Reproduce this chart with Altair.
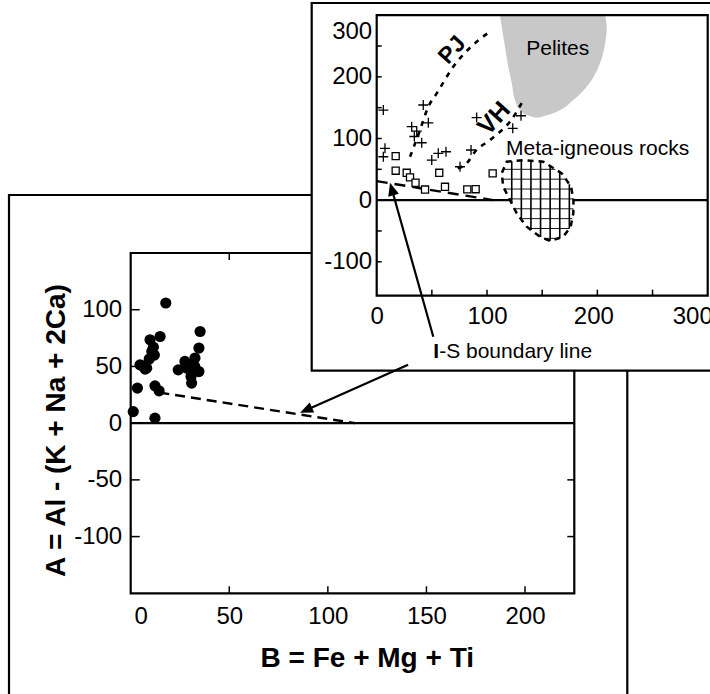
import altair as alt
import pandas as pd
import numpy as np

FONT = "Liberation Sans"

# ---------------- data ----------------
# Main panel: filled circles  (B = Fe + Mg + Ti , A = Al - (K + Na + 2Ca))
main_b = [17.8, 14.9, 9.8, 11.5, 10.7, 9.4, 4.7, 8.1, 7.3, 6.0, 12.0, 3.4, 12.3, 14.4, 1.3, 12.3,
          35.2, 34.6, 32.6, 27.5, 24.1, 28.4, 30.9, 34.6, 30.6, 30.9, 29.5, 32.5]
main_a = [105.9, 76.4, 73.5, 67.0, 63.2, 56.5, 51.4, 48.5, 47.6, 50.5, 60.0, 30.9, 32.9, 28.5, 10.2, 4.4,
          80.8, 66.2, 57.4, 54.4, 47.0, 48.5, 44.1, 45.5, 41.1, 35.3, 51.0, 50.0]
# I-S boundary line in the main panel
is_main_b = [14.5, 113.8]
is_main_a = [27.0, 0.0]

# Inset: plus markers
plus_b = [6.0, 42.2, 46.8, 31.7, 36.3, 34.1, 40.8, 7.5, 6.0, 55.8, 62.8, 49.9, 75.5, 85.5, 90.6, 123.3, 130.8]
plus_a = [146.1, 154.3, 125.5, 119.1, 112.1, 103.2, 93.1, 84.0, 70.4, 75.9, 78.5, 65.0, 54.2, 81.3, 134.0, 116.5, 136.9]
# Inset: open squares
sq_b = [17.2, 17.2, 27.2, 30.2, 35.2, 43.8, 56.7, 61.9, 82.1, 89.7, 105.1]
sq_a = [71.5, 47.7, 44.4, 37.0, 28.2, 17.2, 44.4, 21.7, 17.5, 17.7, 43.5]
# Inset: PJ and VH trend lines
pj_b = [30.2, 38.3, 46.8, 54.4, 69.4, 90.6, 102.7]
pj_a = [70.4, 108.8, 151.5, 173.2, 216.4, 256.9, 273.2]
vh_b = [73.4, 81.6, 89.1, 102.7, 111.8, 120.8, 132.9]
vh_a = [51.6, 59.7, 78.5, 97.5, 110.9, 127.2, 162.4]
# Inset: I-S boundary line
is_ins_b = [0.0, 105.4]
is_ins_a = [30.9, 0.0]
# Inset: Pelites field (left / right edge at each A level)
pel_a = [134, 138, 146, 162, 190, 216, 249, 281, 300]
pel_left = [143, 136, 130, 125.4, 122.4, 119.3, 116.3, 113.3, 111.8]
pel_right = [147, 155, 166, 178, 193, 201, 206.5, 208.5, 207]
# Inset: Meta-igneous rocks field
meta_a = [-66, -59.4, -43.1, -21.4, 0.2, 21.7, 43.5, 62.3, 65]
meta_left = [157, 148, 136, 126.9, 120.8, 114.7, 113.3, 117.8, 133]
meta_right = [157, 169.1, 175.8, 178.2, 178.3, 176.2, 167.7, 151, 133]

# Tick values / labels
main_x_labels = [0, 50, 100, 150, 200]
main_y_labels = [-100, -50, 0, 50, 100]
main_x_ticks = [50, 100, 150, 200]
main_y_ticks = [-100, -50, 50, 100]
ins_x_labels = [0, 100, 200, 300]
ins_y_labels = [-100, 0, 100, 200, 300]
ins_x_ticks = [50, 100, 150, 200, 250]
ins_y_ticks = [-100, -50, 50, 100, 150, 200, 250]

# ---------------- geometry of the two panels (pixels) ----------------
MX = ([0, 225], [130.7, 574.3])
MY = ([-150, 150], [593.3, 253.0])
IX = ([0, 300], [376.7, 707.7])
IY = ([-155, 300], [295.7, 15.2])


def sc(s):
    return alt.Scale(domain=s[0], range=s[1], nice=False, zero=False)


def X(field=None, s=MX, datum=None, axis=None):
    if datum is not None:
        return alt.X(datum=datum, type="quantitative", scale=sc(s), axis=axis)
    return alt.X(field, type="quantitative", scale=sc(s), axis=axis)


def Y(field=None, s=MY, datum=None, axis=None):
    if datum is not None:
        return alt.Y(datum=datum, type="quantitative", scale=sc(s), axis=axis)
    return alt.Y(field, type="quantitative", scale=sc(s), axis=axis)


one = pd.DataFrame({"k": [0]})
BLK = "black"

# ---------------- main panel ----------------
outer = alt.Chart(one).mark_rect(fillOpacity=0, stroke=BLK, strokeWidth=2.2).encode(
    x=alt.value(9), x2=alt.value(627.3), y=alt.value(195), y2=alt.value(720))

main_frame = alt.Chart(one).mark_rect(fillOpacity=0, stroke=BLK, strokeWidth=2.2).encode(
    x=X(datum=0), x2=alt.X2(datum=225), y=Y(datum=-150), y2=alt.Y2(datum=150))

main_zero = alt.Chart(one).mark_rule(color=BLK, strokeWidth=2.4).encode(
    x=X(datum=0), x2=alt.X2(datum=225), y=Y(datum=0))

df_mxt = pd.DataFrame({"v": main_x_ticks})
df_myt = pd.DataFrame({"v": main_y_labels})
tick_b = alt.Chart(df_mxt).mark_rule(color=BLK, strokeWidth=1.5, y2Offset=-7).encode(
    x=X("v"), y=Y(datum=-150), y2=alt.Y2(datum=-150))
tick_t = alt.Chart(df_mxt).mark_rule(color=BLK, strokeWidth=1.5, y2Offset=7).encode(
    x=X("v"), y=Y(datum=150), y2=alt.Y2(datum=150))
tick_l = alt.Chart(pd.DataFrame({"v": main_y_ticks})).mark_rule(color=BLK, strokeWidth=1.5, x2Offset=9).encode(
    y=Y("v"), x=X(datum=0), x2=alt.X2(datum=0))
tick_r = alt.Chart(df_myt).mark_rule(color=BLK, strokeWidth=1.5, x2Offset=-7).encode(
    y=Y("v"), x=X(datum=225), x2=alt.X2(datum=225))

main_is = alt.Chart(pd.DataFrame({"b": is_main_b, "a": is_main_a})).mark_line(
    color=BLK, strokeWidth=2.4, strokeDash=[10, 6]).encode(x=X("b"), y=Y("a"))

main_x_axis = alt.Axis(
    orient="bottom", offset=593.3 - 694, values=main_x_labels, domain=False, ticks=False, tickSize=0,
    grid=False, labelFont=FONT, labelFontSize=24, labelColor=BLK, labelPadding=11, labelFlush=False,
    labelOverlap=False, labelExpr="'' + datum.value",
    labelOffset=alt.ExprRef(expr="datum.value === 0 ? 10 : 0"),
    title="B = Fe + Mg + Ti", titleFont=FONT, titleFontSize=28, titleFontWeight="bold", titleColor=BLK,
    titleX=366.8, titleY=73.4, titleAlign="center", titleBaseline="alphabetic", zindex=1)
main_y_axis = alt.Axis(
    orient="left", offset=-130.7, values=main_y_labels, domain=False, ticks=False, tickSize=0,
    grid=False, labelFont=FONT, labelFontSize=24, labelColor=BLK, labelPadding=9, labelFlush=False,
    labelOverlap=False, labelExpr="'' + datum.value",
    title="A = Al - (K + Na + 2Ca)", titleFont=FONT, titleFontSize=28, titleFontWeight="bold",
    titleColor=BLK, titleAngle=270, titleX=64 - 130.7, titleY=430, titleAlign="center",
    titleBaseline="alphabetic", zindex=1)

main_pts = alt.Chart(pd.DataFrame({"b": main_b, "a": main_a})).mark_circle(
    color=BLK, opacity=1, size=125).encode(x=X("b", axis=main_x_axis), y=Y("a", axis=main_y_axis))

# ---------------- inset ----------------
ins_outer = alt.Chart(one).mark_rect(fill="white", stroke=BLK, strokeWidth=2.2).encode(
    x=alt.value(311.7), x2=alt.value(740), y=alt.value(3), y2=alt.value(370.7))

pel = alt.Chart(pd.DataFrame({"a": pel_a, "l": pel_left, "r": pel_right})).mark_area(
    orient="horizontal", color="#c8c8c8", opacity=1, interpolate="monotone").encode(
    y=Y("a", IY), x=X("l", IX), x2="r")

ins_zero = alt.Chart(one).mark_rule(color=BLK, strokeWidth=2.4).encode(
    x=X(datum=0, s=IX), x2=alt.X2(datum=300), y=Y(datum=0, s=IY))

meta_fill = alt.Chart(pd.DataFrame({"a": meta_a, "l": meta_left, "r": meta_right})).mark_area(
    orient="horizontal", color="white", opacity=1).encode(y=Y("a", IY), x=X("l", IX), x2="r")

# hatch pattern clipped to the meta-igneous outline
poly = list(zip(meta_left, meta_a)) + list(zip(meta_right[-2:0:-1], meta_a[-2:0:-1]))
edges = list(zip(poly, poly[1:] + poly[:1]))
vseg = []
for k in range(7):
    c = 122.4 + 8.7 * k
    ys = []
    for (x1, y1), (x2, y2) in edges:
        if (x1 <= c < x2) or (x2 <= c < x1):
            ys.append(y1 + (c - x1) / (x2 - x1) * (y2 - y1))
    ys.sort()
    for i in range(0, len(ys) - 1, 2):
        vseg.append({"x": c, "x2": c, "y": ys[i], "y2": ys[i + 1]})
hseg = []
for k in range(8):
    c = 50 - 16 * k
    if meta_a[0] < c < meta_a[-1]:
        hseg.append({"x": float(np.interp(c, meta_a, meta_left)), "x2": float(np.interp(c, meta_a, meta_right)),
                     "y": c, "y2": c})
hatch_v = alt.Chart(pd.DataFrame(vseg)).mark_rule(color=BLK, strokeWidth=1.6).encode(
    x=X("x", IX), x2="x2", y=Y("y", IY), y2="y2")
hatch_h = alt.Chart(pd.DataFrame(hseg)).mark_rule(color=BLK, strokeWidth=0.9).encode(
    x=X("x", IX), x2="x2", y=Y("y", IY), y2="y2")

outline_pts = poly + poly[:1]
meta_line = alt.Chart(pd.DataFrame({"b": [p[0] for p in outline_pts], "a": [p[1] for p in outline_pts],
                                    "o": list(range(len(outline_pts)))})).mark_line(
    color=BLK, strokeWidth=2.5, strokeDash=[6, 5]).encode(x=X("b", IX), y=Y("a", IY), order="o:Q")

pj = alt.Chart(pd.DataFrame({"b": pj_b, "a": pj_a})).mark_line(
    color=BLK, strokeWidth=2.6, strokeDash=[5, 6], interpolate="monotone").encode(x=X("b", IX), y=Y("a", IY))
vh = alt.Chart(pd.DataFrame({"b": vh_b, "a": vh_a})).mark_line(
    color=BLK, strokeWidth=2.6, strokeDash=[5, 6], interpolate="monotone").encode(x=X("b", IX), y=Y("a", IY))
ins_is = alt.Chart(pd.DataFrame({"b": is_ins_b, "a": is_ins_a})).mark_line(
    color=BLK, strokeWidth=2.4, strokeDash=[11, 7]).encode(x=X("b", IX), y=Y("a", IY))

squares = alt.Chart(pd.DataFrame({"b": sq_b, "a": sq_a})).mark_point(
    shape="square", filled=True, fill="white", stroke=BLK, strokeWidth=1.3, size=50, opacity=1).encode(
    x=X("b", IX), y=Y("a", IY))

ins_x_axis = alt.Axis(
    orient="bottom", offset=295.7 - 694, values=ins_x_labels, domain=False, ticks=False, tickSize=0,
    grid=False, labelFont=FONT, labelFontSize=24, labelColor=BLK, labelPadding=9, labelFlush=False,
    labelOverlap=False, labelExpr="'' + datum.value",
    labelOffset=alt.ExprRef(expr="datum.value === 200 ? -4 : (datum.value === 300 ? -15.5 : 0)"),
    title=None, zindex=1)
ins_y_axis = alt.Axis(
    orient="left", offset=-376.7, values=ins_y_labels, domain=False, ticks=False, tickSize=0,
    grid=False, labelFont=FONT, labelFontSize=24, labelColor=BLK, labelPadding=5, labelFlush=False,
    labelOverlap=False, labelExpr="'' + datum.value",
    labelOffset=alt.ExprRef(expr="datum.value === 300 ? 16.5 : 0"),
    title=None, zindex=1)

pluses = alt.Chart(pd.DataFrame({"b": plus_b, "a": plus_a})).mark_point(
    shape="M-1,0L1,0M0,-1L0,1", filled=False, stroke=BLK, strokeWidth=1.3, size=100, opacity=1).encode(
    x=X("b", IX, axis=ins_x_axis), y=Y("a", IY, axis=ins_y_axis))

itick_b = alt.Chart(pd.DataFrame({"v": ins_x_ticks})).mark_rule(color=BLK, strokeWidth=1.5, y2Offset=-6).encode(
    x=X("v", IX), y=Y(datum=-155, s=IY), y2=alt.Y2(datum=-155))
itick_l = alt.Chart(pd.DataFrame({"v": ins_y_ticks})).mark_rule(color=BLK, strokeWidth=1.5, x2Offset=5).encode(
    y=Y("v", IY), x=X(datum=0, s=IX), x2=alt.X2(datum=0))

ins_frame = alt.Chart(one).mark_rect(fillOpacity=0, stroke=BLK, strokeWidth=2.2).encode(
    x=X(datum=0, s=IX), x2=alt.X2(datum=300), y=Y(datum=-155, s=IY), y2=alt.Y2(datum=300))


def label(txt, b, a, s_x, s_y, **kw):
    props = dict(font=FONT, color=BLK, fontSize=21, baseline="alphabetic", align="left")
    props.update(kw)
    return alt.Chart(one).mark_text(text=txt, **props).encode(
        x=X(datum=b, s=s_x), y=Y(datum=a, s=s_y))


t_pel = label("Pelites", 164.1, 235.4, IX, IY, align="center")
t_meta = label("Meta-igneous rocks", 117.2, 73.2, IX, IY)
t_pj = label("PJ", 68.5, 243.5, IX, IY, align="center", baseline="middle", fontWeight="bold",
             fontSize=23, angle=312)
t_vh = label("VH", 106.3, 132.7, IX, IY, align="center", baseline="middle", fontWeight="bold",
             fontSize=25, angle=312)
t_i = label("I", 56.6, -256.6, IX, IY, align="right", fontWeight="bold")
t_s = label("-S boundary line", 56.6, -256.6, IX, IY, align="left")

# arrows
arr_ins = alt.Chart(one).mark_rule(color=BLK, strokeWidth=2.2).encode(
    x=X(datum=51.3, s=IX), x2=alt.X2(datum=14.5), y=Y(datum=-221.6, s=IY), y2=alt.Y2(datum=12.7))
arr_main = alt.Chart(one).mark_rule(color=BLK, strokeWidth=2.2).encode(
    x=X(datum=140.7), x2=alt.X2(datum=90.5), y=Y(datum=51.4), y2=alt.Y2(datum=12.7))
HEAD = "M0,0L-0.85,2L0.85,2Z"
head_ins = alt.Chart(one).mark_point(shape=HEAD, filled=True, color=BLK, opacity=1, size=169,
                                     angle=344.3).encode(x=X(datum=12.1, s=IX), y=Y(datum=28.2, s=IY))
head_main = alt.Chart(one).mark_point(shape=HEAD, filled=True, color=BLK, opacity=1, size=169,
                                      angle=246).encode(x=X(datum=85.9), y=Y(datum=9.1))

chart = alt.layer(
    outer, main_frame, main_zero, tick_b, tick_t, tick_l, tick_r, main_is, main_pts,
    ins_outer, pel, ins_zero, meta_fill, hatch_v, hatch_h, meta_line, pj, vh, ins_is,
    squares, pluses, itick_b, itick_l, ins_frame, t_pel, t_meta, t_pj, t_vh,
    arr_ins, arr_main, head_ins, head_main, t_i, t_s,
).resolve_scale(x="independent", y="independent").properties(
    width=710, height=694, padding=0, autosize=alt.AutoSizeParams(type="none"),
    background="white",
).configure_view(stroke=None)

chart.save("out.html", embed_options={"renderer": "svg", "actions": False})
